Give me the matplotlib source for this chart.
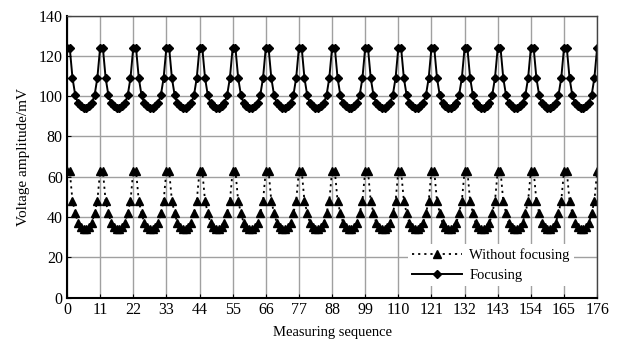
import numpy as np
import matplotlib
matplotlib.use("Agg")
import matplotlib.pyplot as plt

# one rotation (12 samples over 11 units of the sequence axis), repeated 16 times
focus_period = [124, 124, 109, 100.5, 96.5, 95, 94, 94, 95, 96.5, 100.5, 109]
nofocus_period = [63, 63, 48, 42, 37, 35, 34, 34, 35, 37, 42, 48]
n_periods = 16
x_ticks = [0, 11, 22, 33, 44, 55, 66, 77, 88, 99, 110, 121, 132, 143, 154, 165, 176]
y_ticks = [0, 20, 40, 60, 80, 100, 120, 140]

focusing = np.append(np.tile(focus_period, n_periods), focus_period[0])
without = np.append(np.tile(nofocus_period, n_periods), nofocus_period[0])
seq = np.linspace(0, 176, len(focusing))

plt.rcParams["font.family"] = ["Liberation Serif", "DejaVu Serif"]

fig = plt.figure(figsize=(6.23, 3.45), dpi=100)
ax = fig.add_axes([0.1075, 0.137, 0.851, 0.818])

ax.plot(seq, without, linestyle=(0, (1.2, 2.2)), color="k", lw=1.3,
        marker="^", markersize=5.2, label="Without focusing")
ax.plot(seq, focusing, linestyle="-", color="k", lw=1.4,
        marker="D", markersize=4, label="Focusing")

ax.set_xlim(0, 176)
ax.set_ylim(0, 140)
ax.set_xticks(x_ticks)
ax.set_yticks(y_ticks)
ax.grid(True, color="#a0a0a0", lw=1.0)
ax.set_axisbelow(True)
ax.tick_params(direction="in", length=3, labelsize=11.5, pad=3)

for side in ["left", "bottom"]:
    ax.spines[side].set_linewidth(1.5)
    ax.spines[side].set_color("k")
for side in ["top", "right"]:
    ax.spines[side].set_linewidth(1.0)
    ax.spines[side].set_color("#444444")

ax.set_xlabel("Measuring sequence", fontsize=10.5, labelpad=6)
ax.set_ylabel("Voltage amplitude/mV", fontsize=11, labelpad=6)

leg = ax.legend(loc="lower right", bbox_to_anchor=(0.97, 0.015), frameon=True,
                fontsize=10.5, handlelength=3.4, handletextpad=0.5,
                labelspacing=0.45, borderpad=0.3, fancybox=False)
leg.get_frame().set_edgecolor("none")
leg.get_frame().set_facecolor("white")
leg.get_frame().set_alpha(1)

fig.savefig("out.png", dpi=100)
